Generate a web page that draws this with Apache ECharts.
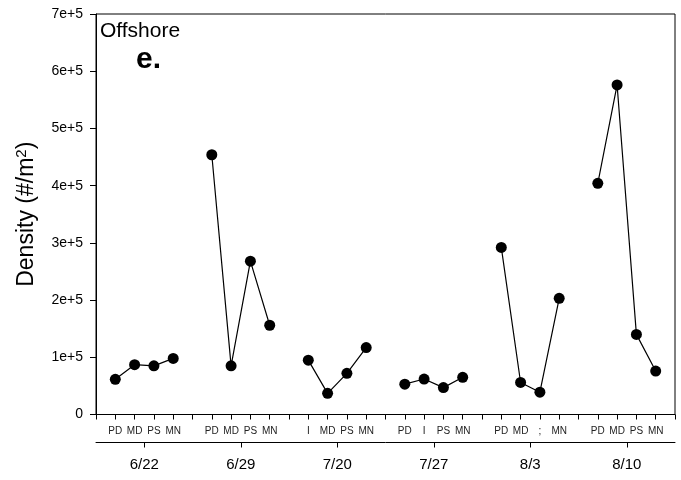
<!DOCTYPE html>
<html>
<head>
<meta charset="utf-8">
<script src="https://cdn.jsdelivr.net/npm/echarts@6/dist/echarts.min.js"></script>
<style>
  html, body { margin: 0; padding: 0; background: #fff; }
  #chart { width: 681px; height: 480px; }
</style>
</head>
<body>
<div id="chart"></div>
<script>
// Sampling dates (lower axis) and station codes (upper axis)
const dates = ["6/22", "6/29", "7/20", "7/27", "8/3", "8/10"];
// one label per x slot 0..30; slots 5,10,... are gaps between dates
const slotLabels = [
  "", "PD", "MD", "PS", "MN",
  "", "PD", "MD", "PS", "MN",
  "", "I", "MD", "PS", "MN",
  "", "PD", "I", "PS", "MN",
  "", "PD", "MD", ";", "MN",
  "", "PD", "MD", "PS", "MN",
  ""
];

// Density (#/m^2), stations PD, MD, PS, MN for each date
const d0622 = [61500, 87000, 85000, 98000];
const d0629 = [454000, 85000, 268000, 156000];
const d0720 = [95000, 37000, 72000, 117000];
const d0727 = [53000, 62000, 47000, 65000];
const d0803 = [292000, 56000, 39000, 203000];
const d0810 = [404000, 576000, 140000, 76000];
const groups = [d0622, d0629, d0720, d0727, d0803, d0810];

const yTicks = { 0: "0", 100000: "1e+5", 200000: "2e+5", 300000: "3e+5",
  400000: "4e+5", 500000: "5e+5", 600000: "6e+5", 700000: "7e+5" };

const FONT = "Liberation Sans, Arial, sans-serif";

const chart = echarts.init(document.getElementById("chart"), null, { renderer: "canvas" });

// each date is its own line so groups are not joined
const series = groups.map((vals, g) => ({
  name: dates[g],
  type: "line",
  xAxisIndex: 0,
  data: vals.map((v, i) => [g * 5 + 1 + i, v]),
  symbol: "circle",
  symbolSize: 11,
  itemStyle: { color: "#000" },
  lineStyle: { color: "#000", width: 1.2 },
  animation: false,
  z: 3
}));

chart.setOption({
  animation: false,
  backgroundColor: "#fff",
  textStyle: { fontFamily: FONT },
  grid: {
    left: 96, right: 6, top: 14, bottom: 65.5,
    show: true, borderColor: "#000", borderWidth: 1, backgroundColor: "transparent"
  },
  xAxis: [
    {
      type: "value",
      min: 0, max: 30, interval: 1,
      axisLine: { show: true, lineStyle: { color: "#000", width: 1 } },
      axisTick: { show: true, length: 5, lineStyle: { color: "#000" } },
      splitLine: { show: false },
      axisLabel: {
        margin: 12, fontSize: 10, color: "#222", fontFamily: FONT,
        showMinLabel: true, showMaxLabel: true,
        formatter: v => slotLabels[Math.round(v)] || ""
      }
    },
    {
      type: "category",
      position: "bottom",
      offset: 28,
      data: dates,
      boundaryGap: true,
      axisLine: { show: true, lineStyle: { color: "#000", width: 1 } },
      axisTick: { show: true, alignWithLabel: true, length: 5, lineStyle: { color: "#000" } },
      axisLabel: { margin: 15, fontSize: 15, color: "#000", fontFamily: FONT },
      splitLine: { show: false }
    }
  ],
  yAxis: {
    type: "value",
    min: 0, max: 700000, interval: 100000,
    axisLine: { show: true, lineStyle: { color: "#000" } },
    axisTick: { show: true, length: 6, lineStyle: { color: "#000" } },
    splitLine: { show: false },
    axisLabel: {
      margin: 13, fontSize: 14, color: "#000", fontFamily: FONT,
      formatter: v => yTicks[v] ?? ""
    },
    name: "{a|Density (#/m}{sup|2}{a|)}",
    nameLocation: "middle",
    nameGap: 56,
    nameRotate: 90,
    nameTextStyle: {
      rich: {
        a: { fontSize: 23, color: "#000", fontFamily: FONT },
        sup: { fontSize: 15, color: "#000", fontFamily: FONT, padding: [0, 0, 11, 0] }
      }
    }
  },
  graphic: [
    {
      type: "text", left: 100, top: 21,
      style: { text: "Offshore", fontSize: 21, fill: "#000", fontFamily: FONT }
    },
    {
      type: "text", left: 136, top: 45,
      style: { text: "e.", fontSize: 30, fontWeight: "bold", fill: "#000", fontFamily: FONT }
    }
  ],
  series: series
});
</script>
</body>
</html>
